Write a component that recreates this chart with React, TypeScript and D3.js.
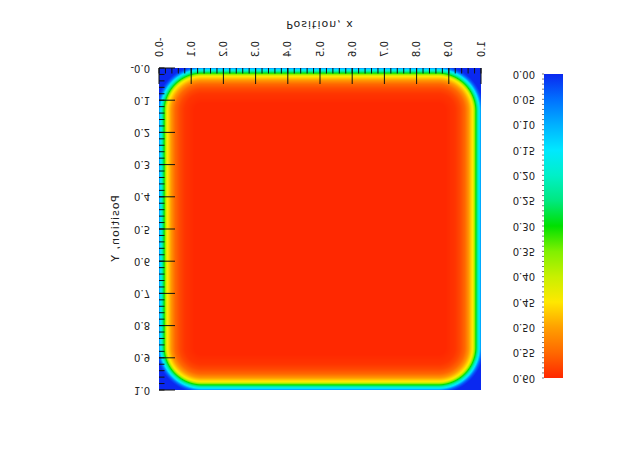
import React, { useMemo } from 'react';
import * as d3 from 'd3';

// Axis ticks
const axisMajor = [0, 0.1, 0.2, 0.3, 0.4, 0.5, 0.6, 0.7, 0.8, 0.9, 1.0];
const xTickLabels = ['-0.0', '0.1', '0.2', '0.3', '0.4', '0.5', '0.6', '0.7', '0.8', '0.9', '1.0'];
const yTickLabels = ['-0.0', '0.1', '0.2', '0.3', '0.4', '0.5', '0.6', '0.7', '0.8', '0.9', '1.0'];
const axisMinorStep = 0.02;

// Colorbar ticks
const cbMajor = [0, 0.05, 0.1, 0.15, 0.2, 0.25, 0.3, 0.35, 0.4, 0.45, 0.5, 0.55, 0.6];
const cbLabels = ['0.00', '0.05', '0.10', '0.15', '0.20', '0.25', '0.30', '0.35', '0.40', '0.45', '0.50', '0.55', '0.60'];
const cbMinorStep = 0.01;

// Colormap stops
const colorStops = [0, 0.05, 0.1, 0.15, 0.2, 0.25, 0.3, 0.35, 0.4, 0.45, 0.5, 0.55, 0.6];
const colorValues = ['#0a28f0', '#0070ff', '#00b0ff', '#00e8ff', '#00f0c8', '#00e880', '#00e000', '#80f000', '#c8f000', '#ffe800', '#ffa000', '#ff6800', '#ff2800'];

// Edge profile of the field: distance from wall (x units) -> value
const profileDist = [-0.01, -0.004, 0, 0.003, 0.008, 0.016, 0.025, 0.039, 0.05, 0.065, 0.08, 0.11];
const profileVal = [0, 0.03, 0.07, 0.12, 0.19, 0.3, 0.44, 0.51, 0.55, 0.575, 0.59, 0.6];
const cornerRadius = 0.133;

const FONT = 'DejaVu Sans, Liberation Sans, sans-serif';

export default function App() {
  const W = 640;
  const H = 459;
  const x = d3.scaleLinear().domain([0, 1]).range([159, 481]);
  const y = d3.scaleLinear().domain([0, 1]).range([391, 69]);
  const cb = d3.scaleLinear().domain([0, 0.6]).range([385, 81]);
  const color = d3
    .scaleLinear<string>()
    .domain(colorStops)
    .range(colorValues)
    .interpolate(d3.interpolateRgb)
    .clamp(true);
  const profile = d3.scaleLinear().domain(profileDist).range(profileVal).clamp(true);

  const url = useMemo(() => {
    const n = 322;
    const canvas = document.createElement('canvas');
    canvas.width = n;
    canvas.height = n;
    const ctx = canvas.getContext('2d');
    if (!ctx) return '';
    const img = ctx.createImageData(n, n);
    for (let j = 0; j < n; j++) {
      const v = 1 - (j + 0.5) / n;
      const dy = Math.min(v, 1 - v);
      for (let i = 0; i < n; i++) {
        const u = (i + 0.5) / n;
        const dx = Math.min(u, 1 - u);
        const dEff =
          cornerRadius -
          Math.hypot(Math.max(cornerRadius - dx, 0), Math.max(cornerRadius - dy, 0));
        const val = profile(dEff);
        const c = d3.rgb(color(val));
        const k = (j * n + i) * 4;
        img.data[k] = c.r;
        img.data[k + 1] = c.g;
        img.data[k + 2] = c.b;
        img.data[k + 3] = 255;
      }
    }
    ctx.putImageData(img, 0, 0);
    return canvas.toDataURL();
  }, []);

  const minor = d3.range(0, 1.0001, axisMinorStep);
  const cbMinor = d3.range(0, 0.6001, cbMinorStep);

  return (
    <svg
      width={W}
      height={H}
      style={{ position: 'absolute', left: 0, top: 0, background: '#fff' }}
    >
      <defs>
        <linearGradient id="cbgrad" x1="0" y1="1" x2="0" y2="0">
          {colorStops.map((s, i) => (
            <stop key={i} offset={s / 0.6} stopColor={colorValues[i]} />
          ))}
        </linearGradient>
      </defs>
      <g transform={`translate(0,${H}) scale(1,-1)`}>
        <rect x={0} y={0} width={W} height={H} fill="#fff" />
        {url && (
          <image
            href={url}
            x={x(0)}
            y={y(1)}
            width={x(1) - x(0)}
            height={y(0) - y(1)}
            preserveAspectRatio="none"
          />
        )}
        {/* x ticks (bottom edge, inward) */}
        {minor.map((t, i) => (
          <line key={'xm' + i} x1={x(t)} x2={x(t)} y1={y(0)} y2={y(0) - 5.5} stroke="#111" strokeWidth={1} />
        ))}
        {axisMajor.map((t, i) => (
          <line key={'xM' + i} x1={x(t)} x2={x(t)} y1={y(0)} y2={y(0) - 16} stroke="#111" strokeWidth={1} />
        ))}
        {/* y ticks (left edge, inward) */}
        {minor.map((t, i) => (
          <line key={'ym' + i} x1={x(0)} x2={x(0) + 5.5} y1={y(t)} y2={y(t)} stroke="#111" strokeWidth={1} />
        ))}
        {axisMajor.map((t, i) => (
          <line key={'yM' + i} x1={x(0)} x2={x(0) + 16} y1={y(t)} y2={y(t)} stroke="#111" strokeWidth={1} />
        ))}
        {/* x tick labels */}
        {axisMajor.map((t, i) => (
          <text
            key={'xl' + i}
            transform={`translate(${x(t)},402) rotate(-90)`}
            textAnchor="end"
            dy="0.35em"
            fontFamily={FONT}
            fontSize={10}
            fill="#222"
          >
            {xTickLabels[i]}
          </text>
        ))}
        {/* y tick labels */}
        {axisMajor.map((t, i) => (
          <text
            key={'yl' + i}
            x={150}
            y={y(t)}
            textAnchor="end"
            dy="0.35em"
            fontFamily={FONT}
            fontSize={10}
            fill="#222"
          >
            {yTickLabels[i]}
          </text>
        ))}
        {/* axis titles */}
        <text x={320} y={438} textAnchor="middle" fontFamily={FONT} fontSize={11} letterSpacing={1} fill="#222">
          Position, x
        </text>
        <text
          transform={`translate(119,${(y(0) + y(1)) / 2}) rotate(-90)`}
          textAnchor="middle"
          fontFamily={FONT}
          fontSize={11}
          letterSpacing={1}
          fill="#222"
        >
          Position, Y
        </text>
        {/* colorbar */}
        <rect x={544} y={cb(0.6)} width={19} height={cb(0) - cb(0.6)} fill="url(#cbgrad)" />
        {cbMinor.map((t, i) => (
          <line key={'cm' + i} x1={544} x2={542} y1={cb(t)} y2={cb(t)} stroke="#555" strokeWidth={0.8} />
        ))}
        {cbMajor.map((t, i) => (
          <text
            key={'cl' + i}
            x={535}
            y={cb(t)}
            textAnchor="end"
            dy="0.35em"
            fontFamily={FONT}
            fontSize={10}
            fill="#222"
          >
            {cbLabels[i]}
          </text>
        ))}
      </g>
    </svg>
  );
}
